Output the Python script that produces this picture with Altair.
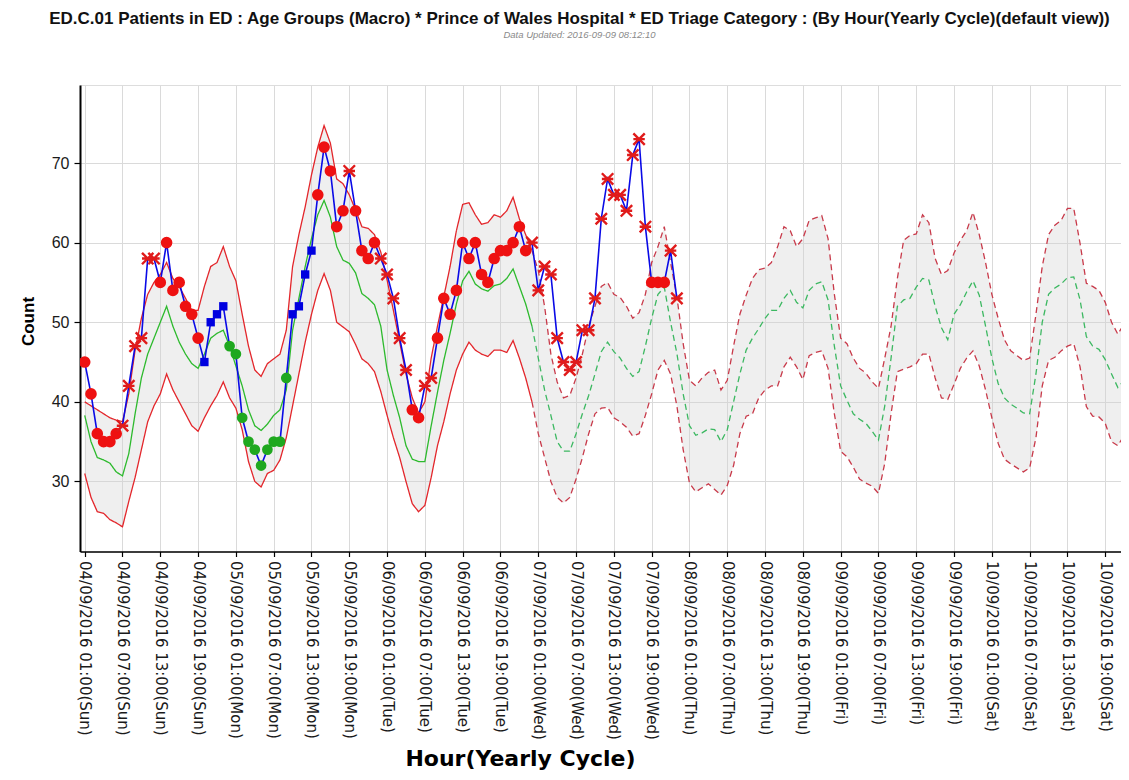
import altair as alt
import pandas as pd

# ---------------- data ----------------
hours = list(range(1, 168))  # 1 = 04/09/2016 01:00

upper = [40, 39.5, 39, 38.5, 38, 37.7, 37.5, 41, 46.5, 50.5,
         53.5, 55, 56, 57.5, 55.5, 54.5, 53, 51.5, 51.5, 54.5,
         57, 57.5, 59.5, 57, 55.2, 51, 47, 44, 43.2, 44.8,
         45.4, 46, 49, 57, 61, 64.5, 68.5, 72, 74.7, 72.5,
         68, 67.4, 66, 64.1, 62, 61.8, 61, 58.8, 55.3, 51.5,
         47.5, 43.5, 40.5, 38.6, 40, 45.5, 49.5, 53.2, 57, 61.5,
         64.8, 65, 63.5, 62.3, 62.5, 63.5, 63.2, 64, 65.7, 63,
         61, 59, 56.5, 52, 46, 42.5, 40.5, 40.8, 43, 46,
         49.5, 52, 54.5, 55, 53.5, 53.1, 52, 50.5, 51.2, 53.5,
         57.5, 59.5, 62, 57.5, 53.2, 47.3, 42.7, 42, 43, 43.7,
         44, 41.5, 42.7, 47, 51, 53.4, 55.5, 56.6, 56.8, 57.5,
         59.5, 62, 61.5, 59.5, 60.5, 62.8, 63.1, 63.4, 60.5, 53.5,
         48, 47.3, 45.5, 44.2, 43.6, 42.5, 41.7, 45.5, 49.5, 55.5,
         60.3, 60.9, 61.1, 63.5, 62.5, 58, 56, 56.5, 58.7, 60.3,
         61.5, 63.8, 61, 57.5, 53.5, 50.5, 47.8, 46.4, 45.8, 45.2,
         45.5, 51, 57, 61, 62.2, 62.8, 64.3, 64.3, 59.9, 54.9,
         54.5, 54, 52.5, 50, 48.5, 49.8, 51]

mean = [38.3, 35, 33, 32.7, 32.3, 31.2, 30.7, 33.5, 38.5, 43,
        46, 48, 50, 52, 49.5, 47.5, 46, 44.8, 44.2, 46,
        48, 48.6, 49, 47, 44.5, 42, 39, 37, 36.4, 37.2,
        38.3, 39, 41.5, 49, 53, 57, 60.5, 63.5, 65.3, 63.2,
        59.5, 57.8, 57.4, 56.2, 53.6, 53, 52.2, 49.5, 44, 40.8,
        38, 34.5, 32.8, 32.5, 32.5, 37, 41.2, 45.2, 48.6, 52.3,
        55.2, 56.4, 54.8, 54.2, 53.9, 54.6, 54.8, 55.5, 56.7, 54.5,
        52.3, 49.5, 45.5, 41.5, 38.3, 35, 33.8, 33.8, 36, 38.5,
        40.8, 43.5, 46.3, 47.5, 46.3, 45.5, 44.2, 43.2, 43.8, 47,
        50.5, 53.5, 54.4, 50, 46.1, 41, 37, 35.8, 36.1, 36.6,
        36.5, 35, 36.5, 40, 43.5, 46.5, 48, 49.2, 50.5, 51.5,
        51.5, 53, 54, 52.5, 51.8, 54, 54.8, 55.1, 52.8, 47,
        42, 40.2, 38.5, 37.8, 37.3, 36.3, 35.2, 39.5, 45.5, 52,
        52.8, 53, 54.4, 55.5, 55.3, 52, 49.3, 47.8, 51, 52.2,
        53.8, 55.2, 53.4, 49.5, 45.5, 42.3, 40.5, 39.7, 39.2, 38.6,
        38.5, 43.5, 50, 53.5, 54.3, 54.8, 55.6, 55.7, 52.8, 48.2,
        47, 46.6, 45.3, 43.5, 41.8, 42.7, 44.5]

lower = [31, 28, 26.2, 26, 25.2, 24.8, 24.3, 27.5, 30.5, 34,
         37.5, 39.5, 41, 43.5, 41.5, 40, 38.5, 37, 36.3, 38,
         39.5, 40.8, 42.5, 40.5, 39.2, 36.5, 32.5, 30, 29.3, 31,
         31.4, 32.7, 35.5, 39.5, 43.5, 47.5, 51, 54, 56.1, 54,
         50, 49.4, 48.8, 47.2, 45.4, 44.8, 43.8, 41.3, 38.3, 35.5,
         33, 30, 27.2, 26.2, 27, 30.5, 34.5, 37.5, 41, 44,
         46, 47.5, 46.5, 46, 45.7, 46.5, 46.5, 46.2, 47.7, 45.5,
         43, 40, 36, 33, 30, 28, 27.3, 28, 30.3, 33,
         36, 38.5, 39.2, 39.3, 38, 37.5, 36.8, 35.7, 36, 38.3,
         41, 44, 45.2, 43.5, 39.5, 34, 29.8, 28.7, 29.2, 29.7,
         29, 28.3, 29.5, 32, 36, 38.2, 38.5, 40.5, 41.5, 42,
         42, 44.4, 45.6, 44.4, 42.8, 45.8, 46.2, 46.4, 44.2, 38.5,
         33.8, 33.1, 31.8, 30.3, 29.8, 29.4, 28.5, 32.3, 38.5, 43.8,
         44.1, 44.4, 44.8, 46, 46, 43, 40.5, 40.3, 42.2, 44.2,
         45.5, 46.4, 44.5, 41.5, 38, 34.8, 32.8, 32.2, 31.7, 31.2,
         31.7, 35.5, 42, 45.2, 45.6, 46.4, 47, 47.3, 44.4, 39.4,
         38.2, 38.1, 37.3, 35, 34.5, 35.8, 37.2]

actual = [45, 41, 36, 35, 35, 36, 37, 42, 47, 48,
          58, 58, 55, 60, 54, 55, 52, 51, 48, 45,
          50, 51, 52, 47, 46, 38, 35, 34, 32, 34,
          35, 35, 43, 51, 52, 56, 59, 66, 72, 69,
          62, 64, 69, 64, 59, 58, 60, 58, 56, 53,
          48, 44, 39, 38, 42, 43, 48, 53, 51, 54,
          60, 58, 60, 56, 55, 58, 59, 59, 60, 62,
          59, 60, 54, 57, 56, 48, 45, 44, 45, 49,
          49, 53, 63, 68, 66, 66, 64, 71, 73, 62,
          55, 55, 55, 59, 53]

# C = red circle, X = red cross, S = blue square, G = green circle
markers = ["C", "C", "C", "C", "C", "C", "X", "X", "X", "X",
           "X", "X", "C", "C", "C", "C", "C", "C", "C", "S",
           "S", "S", "S", "G", "G", "G", "G", "G", "G", "G",
           "G", "G", "G", "S", "S", "S", "S", "C", "C", "C",
           "C", "C", "X", "C", "C", "C", "C", "X", "X", "X",
           "X", "X", "C", "C", "X", "X", "C", "C", "C", "C",
           "C", "C", "C", "C", "C", "C", "C", "C", "C", "C",
           "C", "X", "X", "X", "X", "X", "X", "X", "X", "X",
           "X", "X", "X", "X", "X", "X", "X", "X", "X", "X",
           "C", "C", "C", "X", "X"]

tick_values = [1, 7, 13, 19, 25, 31, 37, 43, 49, 55, 61, 67, 73, 79,
               85, 91, 97, 103, 109, 115, 121, 127, 133, 139, 145, 151, 157, 163]
tick_labels = [
    "04/09/2016 01:00(Sun)", "04/09/2016 07:00(Sun)", "04/09/2016 13:00(Sun)", "04/09/2016 19:00(Sun)",
    "05/09/2016 01:00(Mon)", "05/09/2016 07:00(Mon)", "05/09/2016 13:00(Mon)", "05/09/2016 19:00(Mon)",
    "06/09/2016 01:00(Tue)", "06/09/2016 07:00(Tue)", "06/09/2016 13:00(Tue)", "06/09/2016 19:00(Tue)",
    "07/09/2016 01:00(Wed)", "07/09/2016 07:00(Wed)", "07/09/2016 13:00(Wed)", "07/09/2016 19:00(Wed)",
    "08/09/2016 01:00(Thu)", "08/09/2016 07:00(Thu)", "08/09/2016 13:00(Thu)", "08/09/2016 19:00(Thu)",
    "09/09/2016 01:00(Fri)", "09/09/2016 07:00(Fri)", "09/09/2016 13:00(Fri)", "09/09/2016 19:00(Fri)",
    "10/09/2016 01:00(Sat)", "10/09/2016 07:00(Sat)", "10/09/2016 13:00(Sat)", "10/09/2016 19:00(Sat)",
]
y_ticks = [30, 40, 50, 60, 70]
forecast_start = 72  # 07/09/2016 00:00

title_text = ("ED.C.01 Patients in ED : Age Groups (Macro) * Prince of Wales Hospital * "
              "ED Triage Category : (By Hour(Yearly Cycle)(default view))")
subtitle_text = "Data Updated: 2016-09-09 08:12:10"

# ---------------- tables ----------------
band_df = pd.DataFrame({"t": hours, "upper": upper, "mean": mean, "lower": lower})

rows = []
for name, vals in (("upper", upper), ("mean", mean), ("lower", lower)):
    for t, v in zip(hours, vals):
        if t <= forecast_start:
            rows.append({"t": t, "v": v, "seg": "solid", "key": name + "_solid"})
        if t >= forecast_start:
            rows.append({"t": t, "v": v, "seg": "dashed", "key": name + "_dashed"})
lines_df = pd.DataFrame(rows)

act_df = pd.DataFrame({"t": hours[:len(actual)], "v": actual, "m": markers})

# ---------------- scales / axes ----------------
xs = alt.Scale(domain=[0.254, 165.5], nice=False, zero=False)
ys = alt.Scale(domain=[21.2, 79.8], nice=False, zero=False)

label_expr = "[" + ",".join("'" + s + "'" for s in tick_labels) + "][round((datum.value - 1) / 6)]"

x_axis = alt.Axis(values=tick_values, tickCount=100, labelExpr=label_expr, labelAngle=90,
                  labelOverlap=False,
                  labelFont="DejaVu Sans", labelFontSize=15, labelColor="#1a1a1a",
                  labelPadding=4, tickSize=5, tickColor="#000000", tickWidth=1.2,
                  domainColor="#000000", domainWidth=1.6,
                  grid=True, gridColor="#dadada", gridWidth=1,
                  title="Hour(Yearly Cycle)", titleFont="DejaVu Sans", titleFontSize=22,
                  titleFontWeight="bold", titleColor="#000000",
                  titleX=440, titleY=214, titleAlign="center", titleBaseline="alphabetic")

y_axis = alt.Axis(values=y_ticks, labelFont="Liberation Sans", labelFontSize=16, labelColor="#1a1a1a",
                  labelPadding=5, tickSize=6, tickColor="#000000", tickWidth=1.2,
                  domainColor="#000000", domainWidth=2,
                  grid=True, gridColor="#dadada", gridWidth=1,
                  title="Count", titleFont="Liberation Sans", titleFontSize=17, titleFontWeight="bold",
                  titleColor="#000000", titleAngle=270, titleX=-52, titleY=236,
                  titleAlign="center", titleBaseline="middle")

area = alt.Chart(band_df).mark_area(color="#d0d0d0", opacity=0.35, clip=True).encode(
    x=alt.X("t:Q", scale=xs, axis=x_axis),
    y=alt.Y("lower:Q", scale=ys, axis=y_axis),
    y2="upper:Q",
)

line_keys = ["upper_solid", "lower_solid", "mean_solid", "upper_dashed", "lower_dashed", "mean_dashed"]
line_cols = ["#e3262b", "#e3262b", "#2dba2d", "#c83a4a", "#c83a4a", "#3cb861"]

band_lines = alt.Chart(lines_df).mark_line(strokeWidth=1.3, clip=True).encode(
    x=alt.X("t:Q", scale=xs),
    y=alt.Y("v:Q", scale=ys),
    detail="key:N",
    color=alt.Color("key:N", scale=alt.Scale(domain=line_keys, range=line_cols), legend=None),
    strokeDash=alt.StrokeDash("seg:N", scale=alt.Scale(domain=["solid", "dashed"], range=[[1, 0], [6, 4]]),
                              legend=None),
)

actual_line = alt.Chart(act_df).mark_line(color="#0a0ae6", strokeWidth=1.6, clip=True).encode(
    x=alt.X("t:Q", scale=xs), y=alt.Y("v:Q", scale=ys)
)

red_circles = alt.Chart(act_df).transform_filter(alt.datum.m == "C").mark_point(
    shape="circle", filled=True, color="#ee1111", size=135, opacity=1, clip=True
).encode(x=alt.X("t:Q", scale=xs), y=alt.Y("v:Q", scale=ys))

green_circles = alt.Chart(act_df).transform_filter(alt.datum.m == "G").mark_point(
    shape="circle", filled=True, color="#1fa81f", size=115, opacity=1, clip=True
).encode(x=alt.X("t:Q", scale=xs), y=alt.Y("v:Q", scale=ys))

blue_squares = alt.Chart(act_df).transform_filter(alt.datum.m == "S").mark_point(
    shape="square", filled=True, color="#0000e0", size=70, opacity=1, clip=True
).encode(x=alt.X("t:Q", scale=xs), y=alt.Y("v:Q", scale=ys))

red_crosses = alt.Chart(act_df).transform_filter(alt.datum.m == "X").mark_point(
    shape="M-1,-1L1,1M-1,1L1,-1M-1,0L1,0", filled=False, color="#e01b1b",
    strokeWidth=2.4, size=130, opacity=1, clip=True
).encode(x=alt.X("t:Q", scale=xs), y=alt.Y("v:Q", scale=ys))

chart = alt.layer(
    area, band_lines, actual_line, red_circles, green_circles, blue_squares, red_crosses
).properties(
    width=1041,
    height=466.5,
    autosize=alt.AutoSizeParams(type="none"),
    padding={"left": 72, "top": 77, "right": 0, "bottom": 218},
    title=alt.TitleParams(
        text=title_text, subtitle=subtitle_text,
        font="Liberation Sans", fontSize=17, fontWeight="bold", color="#111111",
        subtitleFont="Liberation Sans", subtitleFontSize=9.5, subtitleFontStyle="italic",
        subtitleColor="#8a8a8a", subtitlePadding=2,
        anchor="middle", frame="group", dx=-21, offset=45,
    ),
).configure_view(strokeWidth=0).configure(background="white")

chart.save("out.html", embed_options={"renderer": "svg", "actions": False})
